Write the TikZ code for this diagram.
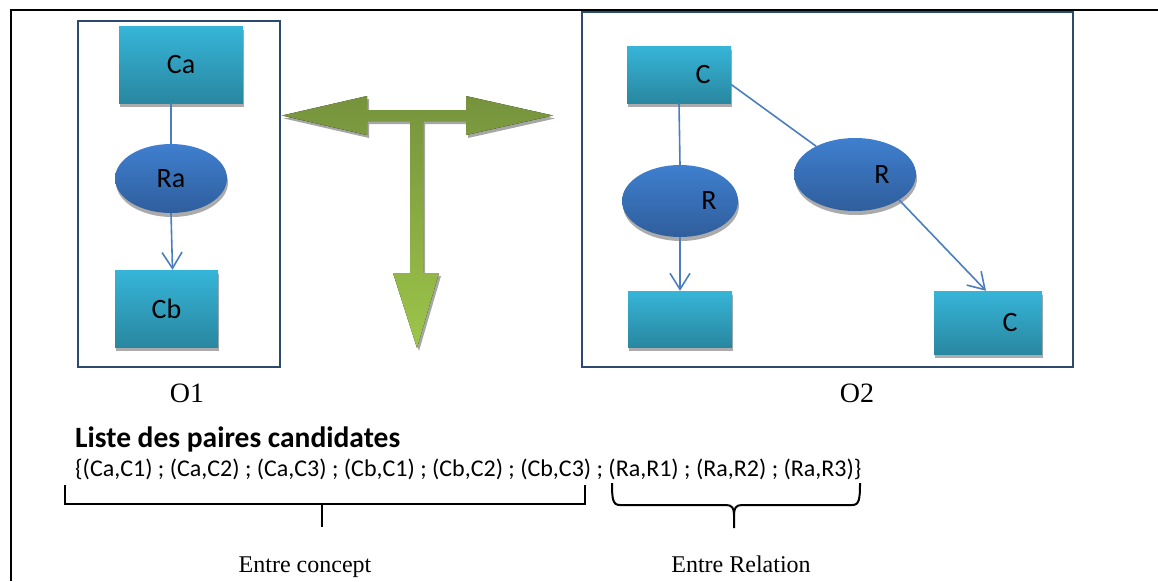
\documentclass[tikz,border=0pt]{standalone}
\usepackage{fontspec}
\setmainfont{Liberation Serif}
\setsansfont{Carlito}
\usetikzlibrary{positioning,calc,shapes,shadows,arrows.meta}
\definecolor{cyantop}{HTML}{36B5D8}
\definecolor{cyanbot}{HTML}{2987A0}
\definecolor{bluetop}{HTML}{3F7FCF}
\definecolor{bluebot}{HTML}{2F5E9C}
\definecolor{framecol}{HTML}{2C4A6E}
\definecolor{linkcol}{HTML}{4A7EBF}
\definecolor{greentop}{HTML}{76933C}
\definecolor{greenbot}{HTML}{9DC54A}
\newcommand{\fs}[1]{\fontsize{#1}{#1}\selectfont}

\begin{document}
\begin{tikzpicture}[x=1pt,y=-1pt,
  myshadow/.style={drop shadow={shadow xshift=1pt, shadow yshift=-4pt, fill=black!33, opacity=1}},
  myconcept/.style={rectangle, inner sep=0pt, top color=cyantop, bottom color=cyanbot, myshadow, font=\sffamily\fs{28pt}},
  myrelation/.style={ellipse, inner sep=0pt, top color=bluetop, bottom color=bluebot, myshadow, font=\sffamily\fs{28pt}},
  mycontainer/.style={draw=framecol, line width=2.5pt, inner sep=0pt},
  mylink/.style={draw=linkcol, line width=1.6pt},
  myarrow/.style={mylink, -{Straight Barb[length=16pt, width=20pt, line width=1.6pt]}},
  title/.style={inner sep=0pt, font=\fs{28pt}},
  caption/.style={inner sep=0pt, font=\fs{24pt}, anchor=base},
  bracket/.style={draw=black, line width=2pt}
  ]
  \useasboundingbox (0,0) rectangle (1158,581);
  \draw[line width=2pt] (11,581) -- (11,10) -- (1158,10);

  % O1
  \node[mycontainer, minimum width=202pt, minimum height=346pt] (o1) at (179,194) {};
  \node[myconcept, minimum width=124pt, minimum height=77pt] (ca) at (181,64.5) {Ca};
  \node[myrelation, minimum width=112pt, minimum height=69pt] (ra) at (171,178.5) {Ra};
  \node[myconcept, minimum width=103pt, minimum height=77pt] (cb) at (166.5,308.5) {Cb};
  \draw[mylink] (ra.north |- ca.south) -- (ra.north);
  \draw[myarrow] (ra.south) -- ([xshift=6pt]cb.north);
  \node[title] (o1lbl) at (187,393) {O1};

  % O2
  \node[mycontainer, minimum width=491pt, minimum height=355pt] (o2) at (827.5,189.5) {};
  \node[myconcept, minimum width=104pt, minimum height=57pt, label={[xshift=24pt, font=\sffamily\fs{28pt}]center:C}] (c1) at (679,74.5) {};
  \node[myrelation, minimum width=116pt, minimum height=72pt, label={[xshift=29pt, font=\sffamily\fs{28pt}]center:R}] (r1) at (680,201) {};
  \node[myrelation, minimum width=122pt, minimum height=73pt, label={[xshift=27pt, font=\sffamily\fs{28pt}]center:R}] (r2) at (855,174.5) {};
  \node[myconcept, minimum width=104pt, minimum height=56pt] (c3) at (680,319) {};
  \node[myconcept, minimum width=108pt, minimum height=63pt, label={[xshift=22pt, font=\sffamily\fs{28pt}]center:C}] (c4) at (988,322.5) {};
  \draw[mylink] (c1.south) -- (r1.north);
  \draw[mylink] ([yshift=-10pt]c1.east) -- (r2);
  \draw[myarrow] (r1.south) -- (c3.north);
  \draw[myarrow] (r2.-30) -- ([xshift=-2pt]c4.north);
  \node[title] (o2lbl) at (857,393) {O2};

  % green T arrow
  \fill[top color=greentop, bottom color=greenbot,
    drop shadow={shadow xshift=2pt, shadow yshift=-3pt, fill=black!35, opacity=1}]
    (282,115.5) -- (367,96) -- (367,110) -- (466,110) -- (466,96) -- (553,115.5)
    -- (466,135) -- (466,121) -- (423,121) -- (423,273) -- (439,273) -- (417,348)
    -- (393,273) -- (410,273) -- (410,121) -- (367,121) -- (367,135) -- cycle;

  % liste
  \node[inner sep=0pt, anchor=base west, font=\sffamily\bfseries\fs{29.5pt}] (liste) at (75,447) {Liste des paires candidates};
  \node[inner sep=0pt, anchor=base west, font=\sffamily\fs{24pt}] (paires) at (75,476)
    {\{(Ca,C1) ; (Ca,C2) ; (Ca,C3) ; (Cb,C1) ; (Cb,C2) ; (Cb,C3) ; (Ra,R1) ; (Ra,R2) ; (Ra,R3)\}};

  % accolades
  \coordinate (bl) at (65,485);
  \coordinate (br) at (585,485);
  \coordinate (bm) at (322,504);
  \draw[bracket] (bl) -- (bl |- bm) -- (br |- bm) -- (br);
  \draw[bracket] (bm) -- ++(0,23);
  \draw[bracket] (612,483) .. controls (612,500) and (613,505) .. (620,505) -- (726,505)
    .. controls (732,505) and (734,508) .. (734,515) -- (734,528);
  \draw[bracket] (734,515) .. controls (734,508) and (736,505) .. (742,505) -- (852,505)
    .. controls (859,505) and (860,500) .. (860,483);
  \node[caption] (concept) at (305,572) {Entre concept};
  \node[caption] (relation) at (741,572) {Entre Relation};
\end{tikzpicture}
\end{document}
